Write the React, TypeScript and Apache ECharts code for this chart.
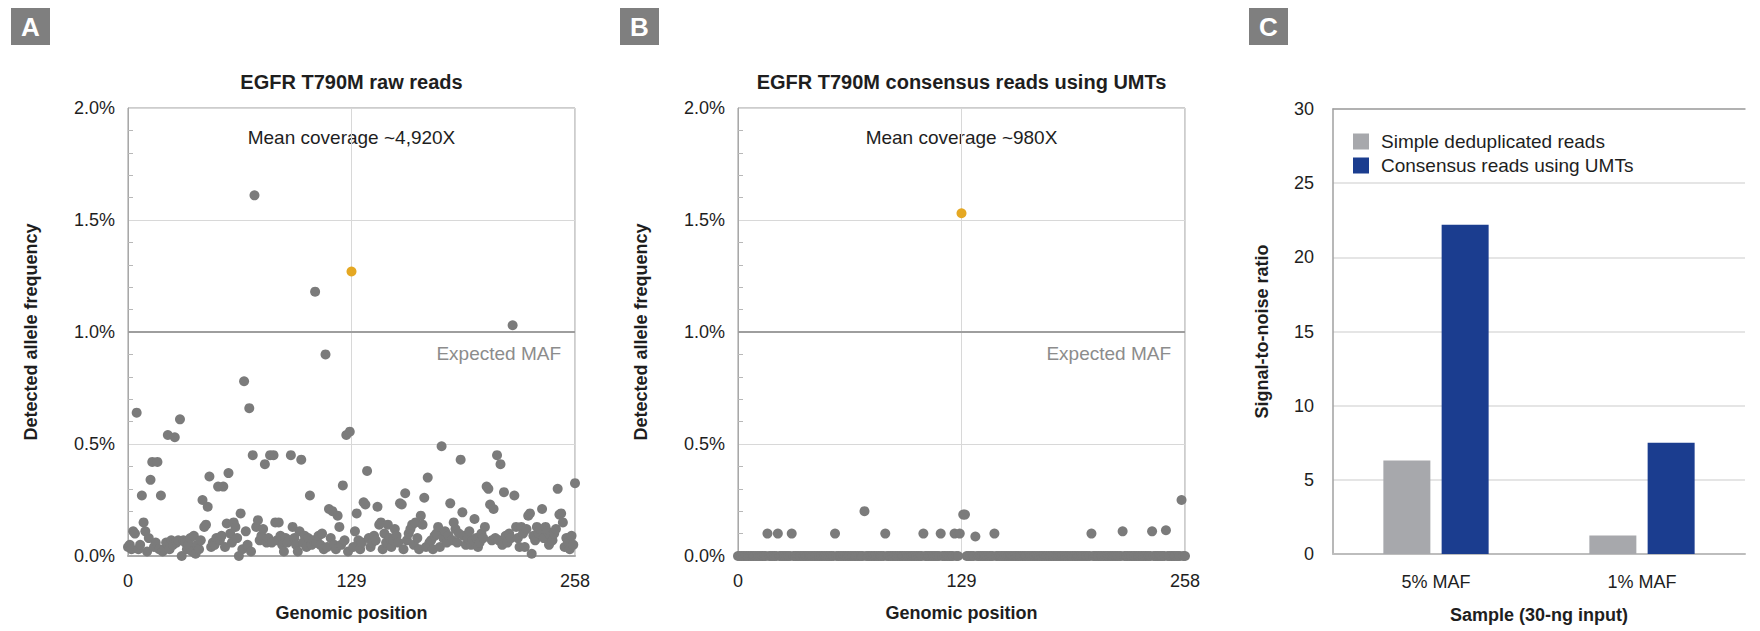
import React, { useEffect, useRef } from "react";
import * as echarts from "echarts";

// ---------- data ----------
const X_MIN = 0;
const X_MAX = 258;
const X_STEP = 129;
const TARGET_POS = 129;
const EXPECTED_MAF = 1.0; // %
const A_TARGET_AF = 1.27; // %
const B_TARGET_AF = 1.53; // %

// Panel A: detected allele frequency (%) per genomic position 0..258 (raw reads); index 129 = target (drawn separately)
const A_NOISE_AF: (number | null)[] = [
  0.04, 0.05, 0.03, 0.11, 0.10, 0.64, 0.03, 0.05, 0.27, 0.15,
  0.11, 0.02, 0.08, 0.34, 0.42, 0.04, 0.06, 0.42, 0.03, 0.27,
  0.02, 0.03, 0.06, 0.54, 0.03, 0.07, 0.05, 0.53, 0.06, 0.07,
  0.61, 0.00, 0.07, 0.06, 0.03, 0.05, 0.08, 0.02, 0.09, 0.01,
  0.05, 0.03, 0.07, 0.25, 0.13, 0.14, 0.22, 0.355, 0.04, 0.06,
  0.05, 0.08, 0.31, 0.07, 0.09, 0.31, 0.04, 0.145, 0.37, 0.10,
  0.06, 0.15, 0.13, 0.08, 0.00, 0.19, 0.03, 0.78, 0.11, 0.05,
  0.66, 0.02, 0.45, 1.61, 0.13, 0.16, 0.07, 0.09, 0.12, 0.41,
  0.06, 0.08, 0.45, 0.06, 0.45, 0.15, 0.07, 0.15, 0.09, 0.05,
  0.02, 0.08, 0.06, 0.07, 0.45, 0.13, 0.08, 0.05, 0.02, 0.11,
  0.43, 0.06, 0.09, 0.04, 0.08, 0.27, 0.05, 0.07, 1.18, 0.06,
  0.09, 0.05, 0.10, 0.03, 0.90, 0.04, 0.21, 0.08, 0.20, 0.05,
  0.03, 0.18, 0.13, 0.05, 0.315, 0.07, 0.54, 0.02, 0.555, null,
  0.04, 0.11, 0.19, 0.07, 0.03, 0.06, 0.24, 0.23, 0.38, 0.08,
  0.04, 0.06, 0.09, 0.07, 0.22, 0.14, 0.15, 0.03, 0.10, 0.06,
  0.14, 0.08, 0.04, 0.07, 0.12, 0.09, 0.06, 0.235, 0.23, 0.03,
  0.28, 0.07, 0.10, 0.12, 0.14, 0.05, 0.15, 0.08, 0.03, 0.18,
  0.14, 0.26, 0.04, 0.35, 0.06, 0.07, 0.03, 0.09, 0.10, 0.13,
  0.04, 0.49, 0.08, 0.11, 0.06, 0.09, 0.235, 0.07, 0.15, 0.12,
  0.06, 0.10, 0.43, 0.195, 0.09, 0.05, 0.08, 0.11, 0.05, 0.07,
  0.165, 0.08, 0.04, 0.06, 0.10, 0.08, 0.13, 0.31, 0.30, 0.23,
  0.07, 0.21, 0.08, 0.45, 0.07, 0.41, 0.05, 0.285, 0.09, 0.06,
  0.10, 0.08, 1.03, 0.27, 0.13, 0.08, 0.04, 0.13, 0.10, 0.04,
  0.12, 0.18, 0.19, 0.01, 0.09, 0.07, 0.13, 0.10, 0.12, 0.21,
  0.08, 0.13, 0.11, 0.05, 0.09, 0.07, 0.10, 0.12, 0.30, 0.185,
  0.19, 0.15, 0.04, 0.08, 0.06, 0.03, 0.09, 0.05, 0.325,
];

// Panel B: consensus reads using UMTs (%), index 129 = target (drawn separately)
const B_NOISE_AF: (number | null)[] = [
  0, 0, 0, 0, 0, 0, 0, 0, 0, 0,
  0, 0, 0, 0, 0, 0, 0, 0.10, 0, 0,
  0, 0, 0, 0.10, 0, 0, 0, 0, 0, 0,
  0, 0.10, 0, 0, 0, 0, 0, 0, 0, 0,
  0, 0, 0, 0, 0, 0, 0, 0, 0, 0,
  0, 0, 0, 0, 0, 0, 0.10, 0, 0, 0,
  0, 0, 0, 0, 0, 0, 0, 0, 0, 0,
  0, 0, 0, 0.20, 0, 0, 0, 0, 0, 0,
  0, 0, 0, 0, 0, 0.10, 0, 0, 0, 0,
  0, 0, 0, 0, 0, 0, 0, 0, 0, 0,
  0, 0, 0, 0, 0, 0, 0, 0.10, 0, 0,
  0, 0, 0, 0, 0, 0, 0, 0.10, 0, 0,
  0, 0, 0, 0, 0, 0.10, 0, 0, 0.10, null,
  0.185, 0.185, 0, 0, 0, 0, 0, 0.087, 0, 0,
  0, 0, 0, 0, 0, 0, 0, 0, 0.10, 0,
  0, 0, 0, 0, 0, 0, 0, 0, 0, 0,
  0, 0, 0, 0, 0, 0, 0, 0, 0, 0,
  0, 0, 0, 0, 0, 0, 0, 0, 0, 0,
  0, 0, 0, 0, 0, 0, 0, 0, 0, 0,
  0, 0, 0, 0, 0, 0, 0, 0, 0, 0,
  0, 0, 0, 0, 0.10, 0, 0, 0, 0, 0,
  0, 0, 0, 0, 0, 0, 0, 0, 0, 0,
  0, 0, 0.11, 0, 0, 0, 0, 0, 0, 0,
  0, 0, 0, 0, 0, 0, 0, 0, 0, 0.11,
  0, 0, 0, 0, 0, 0, 0, 0.115, 0, 0,
  0, 0, 0, 0, 0, 0, 0.25, 0, 0,
];

// Panel C
const C_CATEGORIES = ["5% MAF", "1% MAF"];
const C_SIMPLE = [6.3, 1.25];
const C_CONSENSUS = [22.2, 7.5];
const C_SERIES_NAMES = ["Simple deduplicated reads", "Consensus reads using UMTs"];

const TITLE_A = "EGFR T790M raw reads";
const TITLE_B = "EGFR T790M consensus reads using UMTs";
const COVER_A = "Mean coverage ~4,920X";
const COVER_B = "Mean coverage ~980X";

// ---------- styles ----------
const FONT = '"Liberation Sans", Arial, Helvetica, sans-serif';
const TXT = "#1e1e1e";
const GRAY_PT = "#7b7b7b";
const GOLD = "#e5a823";
const BAR_GRAY = "#a7a8ac";
const BAR_BLUE = "#1b3d8f";

const toPoints = (arr: (number | null)[]) =>
  arr.map((v, i) => (v == null ? null : [i, v])).filter((p) => p !== null) as number[][];

function scatterAxes(gridIndex: number) {
  const x = {
    type: "value",
    gridIndex,
    min: X_MIN,
    max: X_MAX,
    interval: X_STEP,
    name: "Genomic position",
    nameLocation: "middle",
    nameGap: 48,
    nameTextStyle: { fontFamily: FONT, fontWeight: "bold", fontSize: 18, color: TXT },
    axisLine: { show: true, lineStyle: { color: "#a8a8a8", width: 2 } },
    axisTick: { show: false },
    axisLabel: { fontFamily: FONT, fontSize: 18, color: TXT, margin: 16 },
    splitLine: { show: true, lineStyle: { color: "#d8d8d8", width: 1 } },
  };
  const y = {
    type: "value",
    gridIndex,
    min: 0,
    max: 2,
    interval: 0.5,
    name: "Detected allele frequency",
    nameLocation: "middle",
    nameGap: 88,
    nameTextStyle: { fontFamily: FONT, fontWeight: "bold", fontSize: 18, color: TXT },
    axisLine: { show: true, lineStyle: { color: "#a8a8a8", width: 1 } },
    axisTick: { show: false, inside: true },
    minorTick: { show: true, splitNumber: 5, length: 5, lineStyle: { color: "#b8b8b8" } },
    axisLabel: {
      fontFamily: FONT,
      fontSize: 18,
      color: TXT,
      margin: 13,
      formatter: (v: number) => v.toFixed(1) + "%",
    },
    splitLine: { show: true, lineStyle: { color: "#d8d8d8", width: 1 } },
  };
  return { x, y };
}

function scatterSeries(idx: number, noise: (number | null)[], target: number) {
  return [
    {
      type: "scatter",
      xAxisIndex: idx,
      yAxisIndex: idx,
      data: toPoints(noise),
      symbolSize: 10,
      itemStyle: { color: GRAY_PT, opacity: 1 },
      markLine: {
        silent: true,
        symbol: "none",
        data: [{ yAxis: EXPECTED_MAF }],
        lineStyle: { color: "#9e9e9e", width: 2, type: "solid" },
        label: {
          show: true,
          position: "insideEndBottom",
          formatter: "Expected MAF",
          fontFamily: FONT,
          fontSize: 19,
          color: "#8c8c8c",
          distance: [14, 12],
        },
        z: 1,
      },
      z: 3,
    },
    {
      type: "scatter",
      xAxisIndex: idx,
      yAxisIndex: idx,
      data: [[TARGET_POS, target]],
      symbolSize: 10,
      itemStyle: { color: GOLD, opacity: 1 },
      z: 4,
    },
  ];
}

const GA = { left: 128, top: 108, width: 447, height: 448 };
const GB = { left: 738, top: 108, width: 447, height: 448 };
const GC = { left: 1333, top: 109, width: 412, height: 445 };

function letterBox(letter: string, x: number) {
  return [
    { type: "rect", shape: { x, y: 8, width: 39, height: 37 }, style: { fill: "#7f7f7f" } },
    {
      type: "text",
      x: x + 19.5,
      y: 27,
      style: {
        text: letter,
        fill: "#fff",
        font: `bold 26px ${FONT}`,
        align: "center",
        verticalAlign: "middle",
      },
    },
  ];
}

function centeredText(text: string, cx: number, cy: number, font: string, fill = TXT) {
  return {
    type: "text",
    x: cx,
    y: cy,
    style: { text, fill, font, align: "center", verticalAlign: "middle" },
  };
}

function buildOption() {
  const a = scatterAxes(0);
  const b = scatterAxes(1);
  return {
    animation: false,
    backgroundColor: "#ffffff",
    textStyle: { fontFamily: FONT },
    grid: [
      { ...GA, show: true, borderColor: "#9a9a9a", borderWidth: 1, backgroundColor: "transparent" },
      { ...GB, show: true, borderColor: "#9a9a9a", borderWidth: 1, backgroundColor: "transparent" },
      { ...GC, show: false },
    ],
    xAxis: [
      a.x,
      b.x,
      {
        type: "category",
        gridIndex: 2,
        data: C_CATEGORIES,
        name: "Sample (30-ng input)",
        nameLocation: "middle",
        nameGap: 52,
        nameTextStyle: { fontFamily: FONT, fontWeight: "bold", fontSize: 18, color: TXT },
        axisLine: { show: true, lineStyle: { color: "#bdbdbd", width: 2 } },
        axisTick: { show: false },
        axisLabel: { fontFamily: FONT, fontSize: 18, color: TXT, margin: 19 },
        splitLine: { show: false },
      },
      {
        type: "category",
        gridIndex: 2,
        position: "top",
        data: C_CATEGORIES,
        axisLine: { show: true, lineStyle: { color: "#a0a0a0", width: 1.5 } },
        axisTick: { show: false },
        axisLabel: { show: false },
        splitLine: { show: false },
      },
    ],
    yAxis: [
      a.y,
      b.y,
      {
        type: "value",
        gridIndex: 2,
        min: 0,
        max: 30,
        interval: 5,
        name: "Signal-to-noise ratio",
        nameLocation: "middle",
        nameGap: 62,
        nameTextStyle: { fontFamily: FONT, fontWeight: "bold", fontSize: 18, color: TXT },
        axisLine: { show: true, lineStyle: { color: "#a0a0a0", width: 1.5 } },
        axisTick: { show: false },
        axisLabel: { fontFamily: FONT, fontSize: 18, color: TXT, margin: 19 },
        splitLine: { show: true, lineStyle: { color: "#dcdcdc", width: 1.5 } },
      },
    ],
    legend: {
      data: C_SERIES_NAMES,
      orient: "vertical",
      left: 1348,
      top: 127,
      itemWidth: 16,
      itemHeight: 16,
      itemGap: 5,
      icon: "rect",
      textStyle: { fontFamily: FONT, fontSize: 19, color: TXT, padding: [0, 0, 0, 7] },
      selectedMode: false,
    },
    series: [
      ...scatterSeries(0, A_NOISE_AF, A_TARGET_AF),
      ...scatterSeries(1, B_NOISE_AF, B_TARGET_AF),
      {
        name: C_SERIES_NAMES[0],
        type: "bar",
        xAxisIndex: 2,
        yAxisIndex: 2,
        data: C_SIMPLE,
        barWidth: 47,
        barGap: "24%",
        itemStyle: { color: BAR_GRAY },
      },
      {
        name: C_SERIES_NAMES[1],
        type: "bar",
        xAxisIndex: 2,
        yAxisIndex: 2,
        data: C_CONSENSUS,
        barWidth: 47,
        barGap: "24%",
        itemStyle: { color: BAR_BLUE },
      },
    ],
    graphic: [
      ...letterBox("A", 11),
      ...letterBox("B", 620),
      ...letterBox("C", 1249),
      centeredText(TITLE_A, GA.left + GA.width / 2, 82, `bold 20px ${FONT}`),
      centeredText(TITLE_B, GB.left + GB.width / 2, 82, `bold 20px ${FONT}`),
      centeredText(COVER_A, GA.left + GA.width / 2, 137, `19px ${FONT}`),
      centeredText(COVER_B, GB.left + GB.width / 2, 137, `19px ${FONT}`),
    ],
  };
}

export default function App() {
  const ref = useRef<HTMLDivElement>(null);
  useEffect(() => {
    if (!ref.current) return;
    const chart = echarts.init(ref.current, null, { renderer: "svg" });
    chart.setOption(buildOption() as any);
    return () => chart.dispose();
  }, []);
  return (
    <div
      ref={ref}
      style={{ position: "absolute", left: 0, top: 0, width: 1760, height: 631, background: "#fff" }}
    />
  );
}
